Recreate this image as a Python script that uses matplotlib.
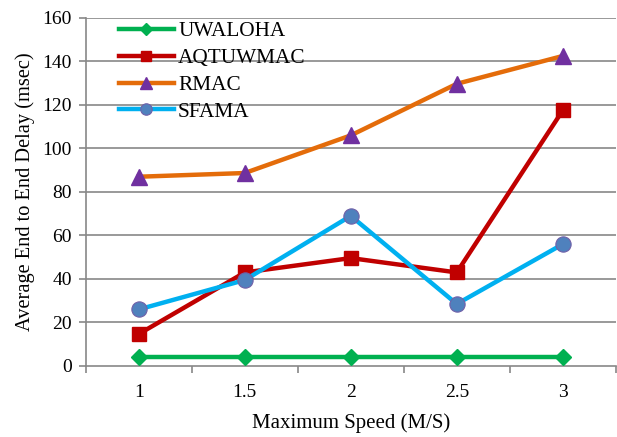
import matplotlib
matplotlib.use("Agg")
import matplotlib.pyplot as plt
import numpy as np

categories = ["1", "1.5", "2", "2.5", "3"]
uwaloha = [4, 4, 4, 4, 4]
aqtuwmac = [14.7, 43, 49.6, 43, 117.5]
rmac = [87, 88.7, 106, 129.7, 142.5]
sfama = [26, 39.5, 69, 28.5, 56]
yticks = [0, 20, 40, 60, 80, 100, 120, 140, 160]

plt.rcParams['font.family'] = ['Liberation Serif', 'DejaVu Serif']

fig = plt.figure(figsize=(6.17, 4.37), dpi=100)
ax = fig.add_axes([0.139, 0.1625, 0.859, 0.7965])

x = np.arange(len(categories))
grid_c = '#888888'
for v in yticks[1:]:
    ax.axhline(v, color=grid_c, lw=1.2, zorder=0)

ax.plot(x, uwaloha, color='#00B050', lw=3.2, marker='D', ms=8, mfc='#00B050', mec='#00B050', label='UWALOHA', zorder=3)
ax.plot(x, aqtuwmac, color='#C00000', lw=3.2, marker='s', ms=10, mfc='#C00000', mec='#C00000', label='AQTUWMAC', zorder=3)
ax.plot(x, rmac, color='#E46C0A', lw=3.2, marker='^', ms=12, mfc='#7030A0', mec='#7030A0', label='RMAC', zorder=3)
ax.plot(x, sfama, color='#00B0F0', lw=3.2, marker='o', ms=11, mfc='#4F81BD', mec='#7060A8', mew=0.8, label='SFAMA', zorder=4)

ax.set_xlim(-0.5, 4.5)
ax.set_ylim(0, 160)
ax.set_yticks(yticks)
ax.set_xticks(x)
ax.set_xticklabels(categories)
ax.set_xticks(np.arange(-0.5, 4.6, 1), minor=True)
ax.tick_params(axis='x', which='major', length=0, pad=13, labelsize=14)
ax.tick_params(axis='x', which='minor', length=5, width=1.2, color=grid_c, direction='out')
ax.tick_params(axis='y', length=5, width=1.2, color=grid_c, direction='out', labelsize=14, pad=5)

for s in ['top', 'right']:
    ax.spines[s].set_visible(False)
for s in ['left', 'bottom']:
    ax.spines[s].set_color(grid_c)
    ax.spines[s].set_linewidth(1.2)

ax.set_xlabel('Maximum Speed (M/S)', fontsize=15, labelpad=9)
ax.set_ylabel('Average End to End Delay (msec)', fontsize=14.7, labelpad=5)

leg = ax.legend(loc='upper left', bbox_to_anchor=(0.062, 0.99), frameon=False, fontsize=15.3,
                handlelength=2.6, handletextpad=0.2, labelspacing=0.33, markerscale=0.75,
                borderpad=0, borderaxespad=0)

fig.savefig('out.png', dpi=100)
